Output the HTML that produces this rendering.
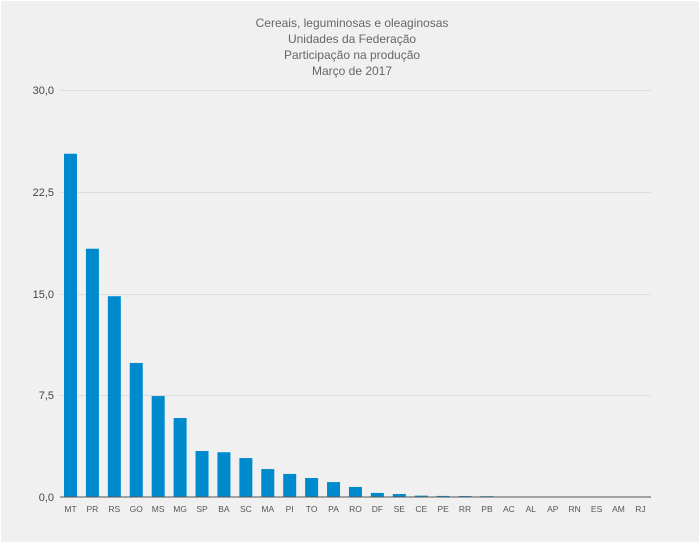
<!DOCTYPE html>
<html><head><style>
body{margin:0;background:#fff}
svg{display:block}
text{font-family:"Liberation Sans",sans-serif}
</style></head><body>
<svg width="700" height="543" viewBox="0 0 700 543">
<rect x="1" y="1" width="698" height="541" fill="#f0f0f0"/>
<g fill="#666" font-size="12" text-anchor="middle">
<text x="352" y="27">Cereais, leguminosas e oleaginosas</text>
<text x="352" y="43">Unidades da Federação</text>
<text x="352" y="59">Participação na produção</text>
<text x="352" y="75">Março de 2017</text>
</g>
<g stroke="#dcdcdc" stroke-width="1">
<line x1="60" x2="651" y1="90.5" y2="90.5"/>
<line x1="60" x2="651" y1="192.5" y2="192.5"/>
<line x1="60" x2="651" y1="294.5" y2="294.5"/>
<line x1="60" x2="651" y1="395.5" y2="395.5"/>
</g>
<g fill="#444" font-size="11" text-anchor="end">
<text x="54" y="94">30,0</text>
<text x="54" y="196">22,5</text>
<text x="54" y="298">15,0</text>
<text x="54" y="399">7,5</text>
<text x="54" y="501">0,0</text>
</g>
<g id="bars" fill="#008ace"></g>
<line x1="60" x2="651" y1="497" y2="497" stroke="#555" stroke-width="1"/>
<g id="lbl" fill="#555" font-size="8.5" text-anchor="middle"></g>
</svg>
<script>
var c=["MT","PR","RS","GO","MS","MG","SP","BA","SC","MA","PI","TO","PA","RO","DF","SE","CE","PE","RR","PB","AC","AL","AP","RN","ES","AM","RJ"];
var v=[25.3,18.3,14.8,9.88,7.44,5.82,3.39,3.3,2.87,2.06,1.7,1.4,1.1,0.74,0.3,0.22,0.1,0.08,0.07,0.06,0.01,0,0,0,0,0,0];
var b=document.getElementById("bars"),l=document.getElementById("lbl"),ns="http://www.w3.org/2000/svg";
for(var i=0;i<c.length;i++){var cx=70.5+i*21.92;var h=v[i]*13.567;
var r=document.createElementNS(ns,"rect");r.setAttribute("x",cx-6.5);r.setAttribute("width",13);r.setAttribute("y",497-h);r.setAttribute("height",h);b.appendChild(r);
var t=document.createElementNS(ns,"text");t.setAttribute("x",cx);t.setAttribute("y",512);t.textContent=c[i];l.appendChild(t);}
</script>
</body></html>
